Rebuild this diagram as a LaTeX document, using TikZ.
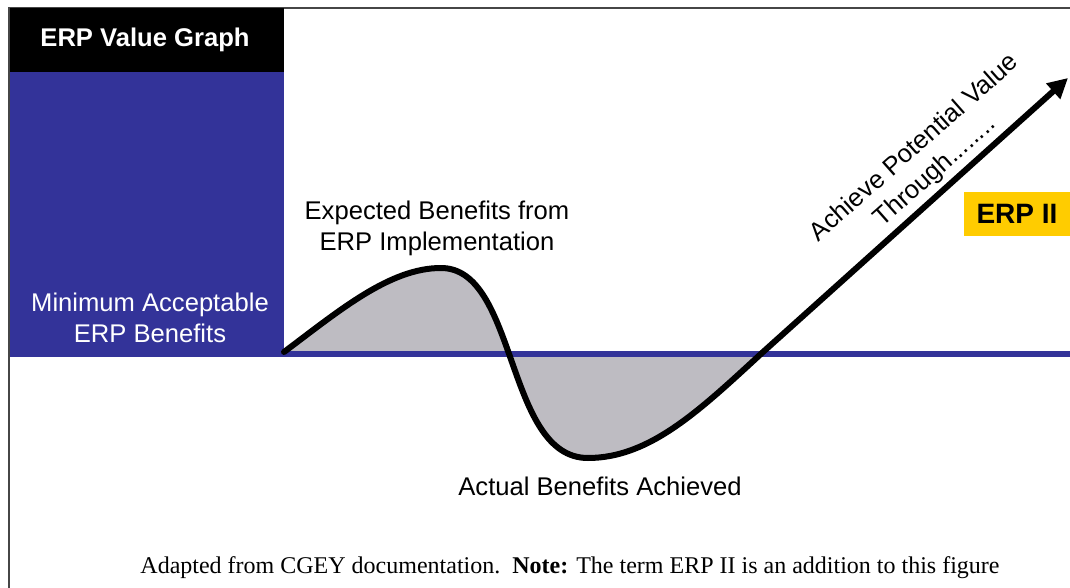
\documentclass[tikz,border=0pt]{standalone}
\usepackage{fontspec}
\setmainfont{Liberation Serif}
\setsansfont{Liberation Sans}
\usetikzlibrary{arrows.meta}
\definecolor{panelblue}{RGB}{51,51,153}
\definecolor{areagrey}{RGB}{190,188,194}
\definecolor{erpyellow}{RGB}{255,204,0}
\definecolor{framegrey}{RGB}{70,70,70}

\begin{document}
\begin{tikzpicture}[x=0.5pt,y=-0.5pt,
    valuecurve/.style={line width=3pt,line cap=round,line join=round},
    sanslabel/.style={font=\sffamily\fontsize{12.8}{15.5}\selectfont,align=center}]
    \tikzstyle{every node}+=[inner sep=0pt]
    \useasboundingbox (0,0) rectangle (1070,588);
    \draw [framegrey, line width=1pt] (9,588) -- (9,8) -- (1070,8);
    \fill [black] (10,8) rectangle (284,72);
    \fill [panelblue] (10,72) rectangle (284,357);
    \coordinate (start) at (284,352);
    \coordinate (peak) at (441,268);
    \coordinate (low) at (588,458);
    \coordinate (cross) at (763,352);
    \coordinate (tip) at (1068,78);
    \fill [areagrey] (start) .. controls (340,310) and (390,268) .. (peak)
        .. controls (518,268) and (505,458) .. (low)
        .. controls (650,458) and (700,410) .. (cross) -- cycle;
    \fill [panelblue] (284,351) rectangle (1070,357);
    \draw [valuecurve, -{Triangle[length=10pt,width=10pt]}] (start)
        .. controls (340,310) and (390,268) .. (peak)
        .. controls (518,268) and (505,458) .. (low)
        .. controls (650,458) and (700,410) .. (cross) -- (tip);
    \draw (145,40) node [sanslabel, text=white, font=\sffamily\bfseries\fontsize{12.8}{15.5}\selectfont] (title) {ERP Value Graph};
    \draw (150,318) node [sanslabel, text=white] (minimum) {Minimum Acceptable\\ERP Benefits};
    \draw (437,228) node [sanslabel] (expected) {Expected Benefits from\\ERP Implementation};
    \draw (600,486) node [sanslabel] (actual) {Actual Benefits Achieved};
    \draw (925,160) node [sanslabel, rotate=41.5] (achieve) {Achieve Potential Value\\Through........};
    \draw (1017,214) node [fill=erpyellow, minimum width=53pt, minimum height=22pt,
        font=\sffamily\bfseries\fontsize{14}{16}\selectfont] (erptwo) {ERP II};
    \draw (570,568) node [font=\rmfamily\fontsize{12}{14}\selectfont] (source)
        {Adapted from CGEY documentation.\ \ \textbf{Note:} The term ERP II is an addition to this figure};
\end{tikzpicture}
\end{document}
